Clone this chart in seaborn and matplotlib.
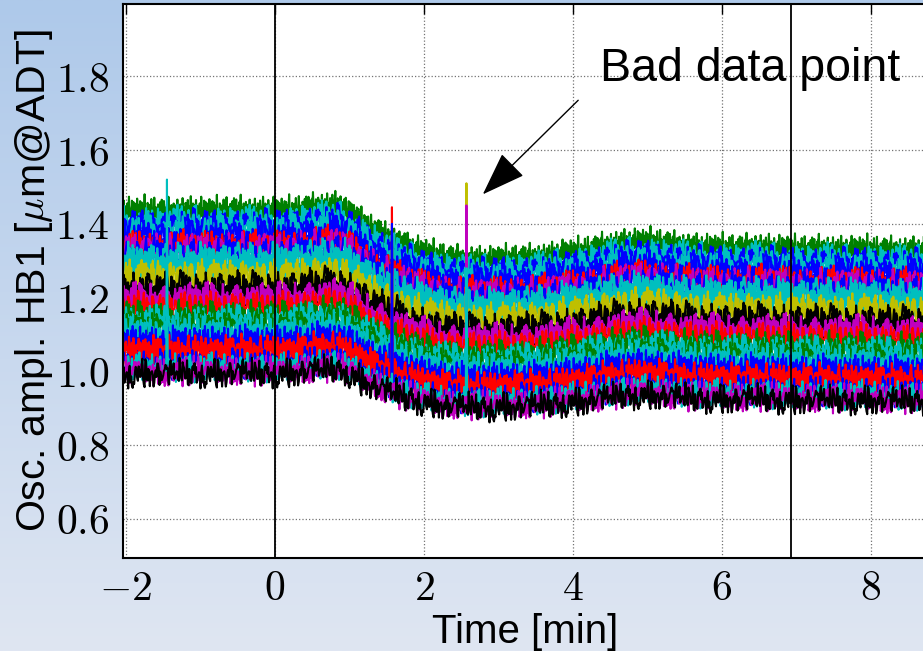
import numpy as np
import pandas as pd
import matplotlib
matplotlib.use("Agg")
import matplotlib.pyplot as plt
import seaborn as sns

# ---------------- data ----------------
T_START = -2.05          # first sample time [min]
T_STEP = 0.01            # sample spacing [min]
SUB = 10                 # samples per profile cell (0.1 min)

# relative amplitude profile, one value per 0.1 min from t=-2.05
profile = [
    1.000, 0.999, 1.000, 1.001, 1.000, 0.999, 0.998, 1.000, 1.001, 1.001,
    1.000, 0.999, 1.000, 1.000, 1.001, 1.002, 1.001, 1.000, 1.000, 1.001,
    1.000, 1.000, 1.001,
    1.003, 1.005, 1.007, 1.009, 1.010, 1.011, 1.008,
    0.998, 0.988, 0.978, 0.968, 0.960, 0.952, 0.945, 0.938, 0.932, 0.927,
    0.922, 0.918, 0.915,
    0.912, 0.910, 0.909, 0.908, 0.908, 0.907, 0.907, 0.908, 0.909, 0.909,
    0.910, 0.911, 0.912, 0.913, 0.915, 0.917, 0.919, 0.921,
    0.923, 0.926, 0.929, 0.932, 0.935, 0.937, 0.939, 0.940, 0.941, 0.941,
    0.940, 0.939, 0.937, 0.935, 0.933,
    0.932, 0.931, 0.930, 0.930, 0.930, 0.929, 0.929, 0.930, 0.931, 0.931,
    0.930, 0.929, 0.928, 0.928, 0.927, 0.927, 0.927, 0.928, 0.928, 0.927,
    0.926, 0.926, 0.926, 0.927, 0.927, 0.926, 0.925, 0.925, 0.925, 0.925,
    0.925, 0.925,
]

# amplitude of each bunch trace before t=0 [um@ADT], top to bottom
levels = [1.432, 1.420, 1.405, 1.395, 1.380, 1.365, 1.350, 1.338, 1.330, 1.318,
          1.305, 1.290, 1.275, 1.258, 1.245, 1.228, 1.212, 1.198, 1.185, 1.172,
          1.160, 1.148, 1.135, 1.122, 1.108, 1.095, 1.080, 1.068, 1.055, 1.042,
          1.030, 1.015, 1.005, 0.995, 0.990]
trace_colors = ["g", "g", "c", "b", "c", "b", "b", "r", "m", "b",
                "c", "c", "c", "y", "y", "k", "k", "m", "m", "r",
                "r", "g", "c", "g", "c", "c", "b", "b", "r", "r",
                "r", "b", "c", "m", "k"]

# shot-to-shot jitter pattern (in units of NOISE_AMP)
jitter = [0.3, -0.8, 1.2, -0.2, 0.6, -1.1, 0.1, 0.9, -0.5, 1.6,
          -0.3, 0.4, -0.9, 0.7, -0.1, 1.1, -1.3, 0.2, 0.5, -0.6,
          1.4, -0.4, 0.0, 0.8, -1.0, 0.3, 1.0, -0.7, 0.6, -0.2,
          1.8, -0.5, 0.1, -1.2, 0.9, 0.4, -0.3, 0.7, -0.9, 1.3,
          -0.1, 0.2, -0.6, 1.5, -0.8, 0.5, 0.0, -1.4, 0.8, 0.3,
          -0.4, 1.1, -0.2, 0.6, -1.0, 0.2, 1.2, -0.5, 0.4, -0.7,
          0.9, -0.1, 1.7, -0.6, 0.3, -1.1, 0.5, 0.1, -0.3, 1.0,
          -0.9, 0.7, 0.2, -0.4, 1.3, -1.2, 0.6, -0.2, 0.8, 0.0,
          -0.7, 1.4, -0.3, 0.4, -1.0, 0.9, 0.1, -0.5, 1.2, -0.8,
          0.5, -0.1, 1.6, -0.6, 0.3, -1.3, 0.7]
NOISE_AMP = 0.026

# bad data points: (time [min], trace index, value)
spikes = [(-1.45, 32, 1.52),
          (1.57, 29, 1.445), (1.57, 31, 1.40),
          (2.57, 14, 1.51), (2.57, 18, 1.45), (2.57, 32, 1.28)]

vline_times = [0.0, 6.93]
xticks = [-2, 0, 2, 4, 6, 8]
xtick_labels = [r"$-2$", r"$0$", r"$2$", r"$4$", r"$6$", r"$8$"]
yticks = [0.6, 0.8, 1.0, 1.2, 1.4, 1.6, 1.8]
ytick_labels = [r"$0.6$", r"$0.8$", r"$1.0$", r"$1.2$", r"$1.4$", r"$1.6$", r"$1.8$"]

# ---------------- build long-form table ----------------
n_samples = len(profile) * SUB
L = len(jitter)
jit = np.array(jitter)
prof = np.repeat(np.array(profile), SUB)
t = T_START + T_STEP * np.arange(n_samples)
frames = []
for i, lev in enumerate(levels):
    stride = 1 + (i * 37) % (L - 1)
    offset = (i * 53) % L
    idx = (np.arange(n_samples) * stride + offset) % L
    y = lev * prof + NOISE_AMP * jit[idx]
    for (ts, ti, val) in spikes:
        if ti == i:
            k = int(round((ts - T_START) / T_STEP))
            y[k] = val
    frames.append(pd.DataFrame({"time": t, "amp": y, "trace": f"T{i:02d}"}))
df = pd.concat(frames, ignore_index=True)
names = [f"T{i:02d}" for i in range(len(levels))]
classic = {"b": (0, 0, 1), "g": (0, 0.5, 0), "r": (1, 0, 0), "c": (0, 0.75, 0.75),
           "m": (0.75, 0, 0.75), "y": (0.75, 0.75, 0), "k": (0, 0, 0)}
palette = {n: classic[c] for n, c in zip(names, trace_colors)}

# ---------------- figure ----------------
sns.set_style("white")
plt.rcParams["font.family"] = ["Liberation Sans", "DejaVu Sans"]
plt.rcParams["mathtext.fontset"] = "cm"

W, H = 923, 651
fig = plt.figure(figsize=(W / 100, H / 100), dpi=100)

# slide background gradient
bg = fig.add_axes([0, 0, 1, 1], zorder=-10)
top_c = np.array([174, 201, 234]) / 255
bot_c = np.array([223, 230, 242]) / 255
fr = np.linspace(0, 1, 256)[:, None]
grad = top_c[None, :] * (1 - fr) + bot_c[None, :] * fr
bg.imshow(grad[:, None, :], aspect="auto", extent=[0, 1, 0, 1])
bg.set_axis_off()

ax_left, ax_right, ax_top, ax_bottom = 123, 960, 4, 558
ax = fig.add_axes([ax_left / W, (H - ax_bottom) / H,
                   (ax_right - ax_left) / W, (ax_bottom - ax_top) / H])
ax.set_facecolor("white")

sns.lineplot(data=df, x="time", y="amp", hue="trace", hue_order=names,
             palette=palette, legend=False, estimator=None, sort=False,
             linewidth=1.5, ax=ax)

for vt in vline_times:
    ax.axvline(vt, color="k", lw=1.3, zorder=5)

ax.set_xlim(-2.04, 9.195)
ax.set_ylim(0.494, 1.996)
ax.set_xticks(xticks)
ax.set_xticklabels(xtick_labels)
ax.set_yticks(yticks)
ax.set_yticklabels(ytick_labels)
ax.tick_params(axis="both", which="major", direction="in", length=7, width=1,
               labelsize=30, top=True, right=True, colors="k")
ax.tick_params(axis="y", pad=10)
ax.tick_params(axis="x", pad=8)
ax.grid(True, linestyle=":", color="0.45", lw=0.9)
for sp in ax.spines.values():
    sp.set_color("k")
    sp.set_linewidth(1.5)

ax.set_xlabel("Time [min]", fontsize=29, color="k")
ax.set_ylabel(r"Osc. ampl. HB1 [$\mu$m@ADT]", fontsize=29.5, color="k")
ax.xaxis.set_label_coords((525 - ax_left) / (ax_right - ax_left),
                          -(632 - ax_bottom) / (ax_bottom - ax_top))
ax.yaxis.set_label_coords(-(ax_left - 34) / (ax_right - ax_left), 0.5)
ax.xaxis.label.set_va("center")
ax.yaxis.label.set_va("center")

ax.annotate("", xy=(2.79, 1.48), xytext=(4.07, 1.735),
            arrowprops=dict(arrowstyle="-|>,head_length=1.4,head_width=0.5",
                            mutation_scale=20, color="k", lw=1.0,
                            shrinkA=0, shrinkB=0), zorder=6)
ax.text(4.36, 1.786, "Bad data point", fontsize=33.5, color="k",
        ha="left", va="baseline", zorder=6)

fig.savefig("out.png", dpi=100)
